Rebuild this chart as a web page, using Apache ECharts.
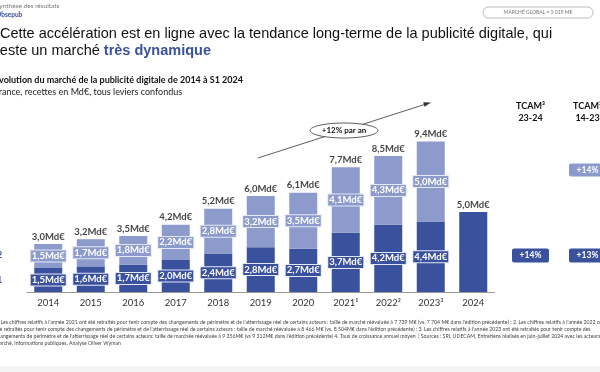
<!DOCTYPE html>
<html>
<head>
<meta charset="utf-8">
<script src="https://cdn.jsdelivr.net/npm/echarts@6/dist/echarts.min.js"></script>
<style>html,body{margin:0;padding:0;background:#fff}#c{width:600px;height:372px}</style>
</head>
<body>
<div id="c"></div>
<script>
const categories = ['2014','2015','2016','2017','2018','2019','2020','2021¹','2022²','2023³','2024'];
const levier1 = [1.5,1.6,1.7,2.0,2.4,2.8,2.7,3.7,4.2,4.4,5.0];
const levier2 = [1.5,1.7,1.8,2.2,2.8,3.2,3.5,4.1,4.3,5.0,null];
const totals  = [3.0,3.2,3.5,4.2,5.2,6.0,6.1,7.7,8.5,9.4,5.0];
const tcamHeads = ['TCAM³\n23-24','TCAM³\n14-23'];
const tcamLevier1 = ['+14%','+13%'];
const tcamLevier2 = [null,'+14%'];
const footnotes = [
 "1. Les chiffres relatifs à l'année 2021 ont été retraités pour tenir compte des changements de périmètre et de l'atterrissage réel de certains acteurs : taille de marché réévaluée à 7 739 M€ (vs. 7 704 M€ dans l'édition précédente) ; 2. Les chiffres relatifs à l'année 2022 ont",
 "été retraités pour tenir compte des changements de périmètre et de l'atterrissage réel de certains acteurs : taille de marché réévaluée à 8 466 M€ (vs. 8 504M€ dans l'édition précédente) ; 3. Les chiffres relatifs à l'année 2023 ont été retraités pour tenir compte des",
 "changements de périmètre et de l'atterrissage réel de certains acteurs: taille de marchée réévaluée à 9 356M€ (vs 9 312M€ dans l'édition précédente) 4. Taux de croissance annuel moyen  | Sources : SRI, UDECAM, Entretiens réalisés en juin-juillet 2024 avec les acteurs du",
 "marché, Informations publiques, Analyse Oliver Wyman"
];

const DARK = '#3a519d', LIGHT = '#8c9bcb';
const fmt = v => v.toFixed(1).replace('.', ',') + 'Md€';
const sums = levier1.map((v, i) => +(v + (levier2[i] || 0)).toFixed(2));

const segLabel = (color) => ({
  show: true, position: 'inside', color: '#fff', fontFamily: 'Lato', fontWeight: 'bold',
  fontSize: 9.5, backgroundColor: color, borderColor: '#e4e8f4', borderWidth: 1,
  padding: [1, 1, 0, 1], formatter: p => fmt(p.value)
});

const l1Data = levier1.map((v, i) => levier2[i] == null ? { value: v, label: { show: false } } : v);

const chart = echarts.init(document.getElementById('c'), null, { renderer: 'canvas' });
const TXT = 'Liberation Sans', LAT = 'Lato';
const graphic = [
  { type: 'text', left: -4, top: 2, style: { text: 'Synthèse des résultats', font: '6.5px ' + LAT, fill: '#777' } },
  { type: 'text', left: -4, top: 11, style: { text: 'Obsepub', font: 'bold 6.5px ' + LAT, fill: '#3a519d' } },
  { type: 'rect', shape: { x: 483, y: 7, width: 110, height: 11, r: 5.5 }, style: { fill: '#fff', stroke: '#aaa', lineWidth: 0.8 } },
  { type: 'text', x: 538, y: 12.5, style: { text: 'MARCHÉ GLOBAL = 5 019 M€', font: '5px ' + LAT, fill: '#777', align: 'center', verticalAlign: 'middle' } },
  { type: 'text', x: 0, y: 26, style: { text: 'Cette accélération est en ligne avec la tendance long-terme de la publicité digitale, qui', font: '14.5px ' + TXT, fill: '#111' } },
  { type: 'text', x: -5, y: 43, style: { text: '{a|reste un marché }{b|très dynamique}', rich: { a: { font: '14.5px ' + TXT, fill: '#111' }, b: { font: 'bold 14.5px ' + TXT, fill: '#3a519d' } } } },
  { type: 'text', x: -6, y: 76, style: { text: 'Évolution du marché de la publicité digitale de 2014 à S1 2024', font: 'bold 9px ' + LAT, fill: '#111' } },
  { type: 'text', x: -6, y: 88, style: { text: 'France, recettes en Md€, tous leviers confondus', font: '9px ' + LAT, fill: '#222' } },
  { type: 'text', x: -3, y: 251, style: { text: '2', font: 'bold 9px ' + LAT, fill: '#3a519d' } },
  { type: 'text', x: -3, y: 276, style: { text: '1', font: 'bold 9px ' + LAT, fill: '#3a519d' } },
  // arrow
  { type: 'line', shape: { x1: 258, y1: 158, x2: 426, y2: 104 }, style: { stroke: '#333', lineWidth: 0.8 } },
  { type: 'polygon', shape: { points: [[431, 102.4], [424.5, 106.8], [423.2, 102.2]] }, style: { fill: '#333' } },
  { type: 'ellipse', shape: { cx: 344, cy: 130.5, rx: 34, ry: 7.5 }, style: { fill: '#fff', stroke: '#333', lineWidth: 0.8 } },
  { type: 'text', x: 344, y: 130.5, style: { text: '+12% par an', font: 'bold 8px ' + LAT, fill: '#111', align: 'center', verticalAlign: 'middle' } },
  { type: 'rect', shape: { x: 0, y: 366, width: 600, height: 6 }, style: { fill: '#f3f3f3' } }
];
const colX = [530.5, 587.5];
tcamHeads.forEach((h, i) => {
  graphic.push({ type: 'text', x: colX[i], y: 100, style: { text: h, font: 'bold 9px ' + LAT, fill: '#111', align: 'center', lineHeight: 12 } });
  if (tcamLevier1[i]) {
    graphic.push({ type: 'rect', shape: { x: colX[i] - 18.5, y: 248.5, width: 37, height: 14, r: 2 }, style: { fill: DARK } });
    graphic.push({ type: 'text', x: colX[i], y: 255.5, style: { text: tcamLevier1[i], font: 'bold 8.5px ' + LAT, fill: '#fff', align: 'center', verticalAlign: 'middle' } });
  }
  if (tcamLevier2[i]) {
    graphic.push({ type: 'rect', shape: { x: colX[i] - 18.5, y: 163.5, width: 37, height: 13, r: 2 }, style: { fill: LIGHT } });
    graphic.push({ type: 'text', x: colX[i], y: 170, style: { text: tcamLevier2[i], font: 'bold 8.5px ' + LAT, fill: '#fff', align: 'center', verticalAlign: 'middle' } });
  }
});
footnotes.forEach((t, i) => {
  graphic.push({ type: 'text', x: -5, y: 320 + i * 7, style: { text: t, font: '5.2px ' + LAT, fill: '#444' } });
});

chart.setOption({
  animation: false,
  grid: { left: 27, right: 105.5, top: 100, bottom: 80 },
  xAxis: {
    type: 'category', data: categories,
    axisLine: { lineStyle: { color: '#999', width: 1 } },
    axisTick: { show: false },
    axisLabel: { color: '#333', fontFamily: LAT, fontSize: 9.5, margin: 6 }
  },
  yAxis: { type: 'value', min: 0, max: 12, show: false, splitLine: { show: false } },
  series: [
    { name: 'Levier 1', type: 'bar', stack: 's', barWidth: 28, data: l1Data, itemStyle: { color: DARK }, label: segLabel(DARK) },
    { name: 'Levier 2', type: 'bar', stack: 's', barWidth: 28, data: levier2, itemStyle: { color: LIGHT }, label: segLabel(LIGHT) },
    { name: 'Total', type: 'scatter', data: sums, symbolSize: 1, itemStyle: { color: 'rgba(0,0,0,0)' }, silent: true,
      label: { show: true, position: 'top', distance: 2, color: '#111', fontFamily: LAT, fontWeight: 'bold', fontSize: 9.5, formatter: p => fmt(totals[p.dataIndex]) } }
  ],
  graphic: graphic
});
</script>
</body>
</html>
